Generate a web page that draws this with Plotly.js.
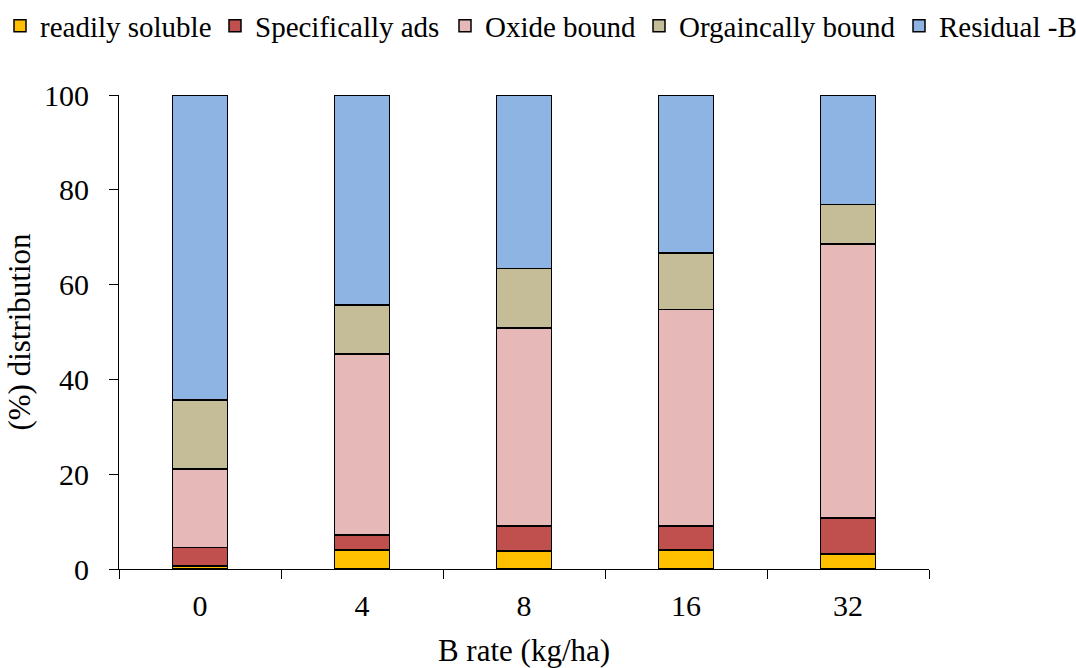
<!DOCTYPE html>
<html>
<head>
<meta charset="utf-8">
<script src="https://cdn.plot.ly/plotly-3.0.1.min.js"></script>
<style>html,body{margin:0;padding:0;background:#fff;}#chart{width:1076px;height:668px;}</style>
</head>
<body>
<div id="chart"></div>
<script>
const categories = ["0", "4", "8", "16", "32"];
const readilySoluble = [0.6, 4.0, 3.8, 4.0, 3.2];
const specificallyAds = [3.9, 3.2, 5.3, 5.1, 7.6];
const oxideBound = [16.6, 38.2, 41.7, 45.6, 57.8];
const organicallyBound = [14.6, 10.3, 12.6, 12.0, 8.3];
const residualB = [64.3, 44.3, 36.6, 33.3, 23.1];
const seriesNames = ["readily soluble", "Specifically ads", "Oxide bound", "Orgaincally bound", "Residual -B"];
const yTicks = [0, 20, 40, 60, 80, 100];

const colors = ["#FFC000", "#C0504D", "#E6B9B8", "#C4BD97", "#8EB4E3"];
const seriesData = [readilySoluble, specificallyAds, oxideBound, organicallyBound, residualB];
// pixel left edge of each legend entry (one legend per series, laid out in a row)
const legendLeft = [-2, 215, 445, 639, 899];

const W = 1076, H = 668;
const fam = "'Liberation Serif', 'Times New Roman', Times, serif";
const f = (s) => ({family: fam, size: s, color: "#000"});

const traces = seriesData.map((vals, i) => ({
  type: "bar",
  name: seriesNames[i],
  x: categories,
  y: vals,
  legend: i === 0 ? "legend" : "legend" + (i + 1),
  marker: {color: colors[i], line: {color: "#000", width: 1.5}},
  width: 0.34
}));

const layout = {
  width: W, height: H,
  barmode: "stack",
  paper_bgcolor: "#fff", plot_bgcolor: "#fff",
  margin: {l: 119, r: 147, t: 95, b: 99, autoexpand: false},
  font: f(30),
  showlegend: true,
  xaxis: {
    type: "category",
    automargin: true,
    tickson: "boundaries",
    ticks: "outside", ticklen: 9, tickcolor: "#000", tickwidth: 1,
    ticklabelstandoff: 10,
    showline: true, linecolor: "#000", linewidth: 1,
    showgrid: false,
    tickfont: f(30),
    title: {text: "B rate (kg/ha)", font: f(31), standoff: 20}
  },
  yaxis: {
    range: [0, 100],
    automargin: true,
    tickvals: yTicks,
    ticks: "outside", ticklen: 9, tickcolor: "#000", tickwidth: 1,
    ticklabelstandoff: 14,
    showline: true, linecolor: "#000", linewidth: 1,
    showgrid: false, zeroline: false,
    tickfont: f(30),
    title: {text: "(%) distribution", font: f(31), standoff: 4}
  }
};

legendLeft.forEach((px, i) => {
  layout[i === 0 ? "legend" : "legend" + (i + 1)] = {
    orientation: "h", xref: "container", yref: "container",
    x: px / W, xanchor: "left",
    y: 1 - 26 / H, yanchor: "middle",
    font: f(29), itemwidth: 30, bgcolor: "rgba(0,0,0,0)", borderwidth: 0
  };
});

Plotly.newPlot("chart", traces, layout, {displayModeBar: false, staticPlot: true});
</script>
</body>
</html>
